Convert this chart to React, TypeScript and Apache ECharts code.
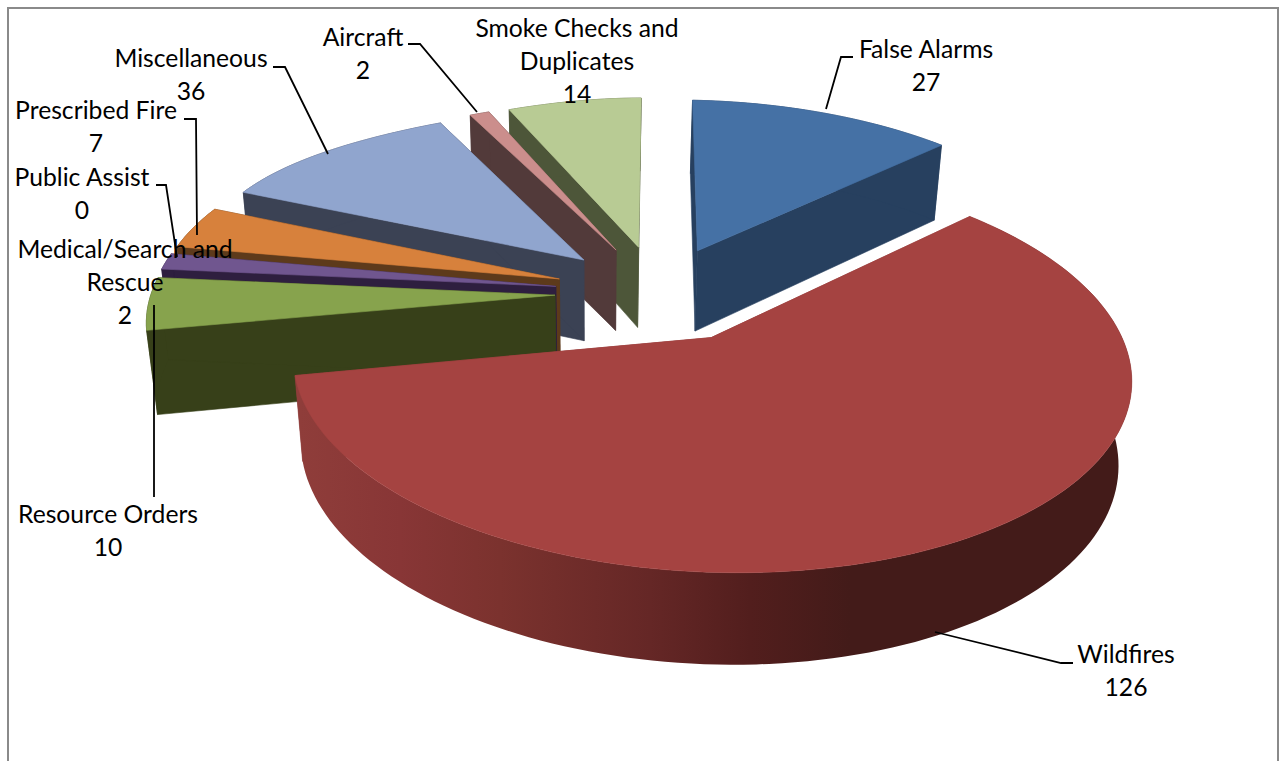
import React, { useEffect, useRef } from "react";
import * as echarts from "echarts";

const categories = ["False Alarms", "Wildfires", "Resource Orders", "Medical/Search and Rescue", "Public Assist", "Prescribed Fire", "Miscellaneous", "Aircraft", "Smoke Checks and Duplicates"];
const values = [27, 126, 10, 2, 0, 7, 36, 2, 14];
const topColors = ["#4571A5", "#A54341", "#87A34D", "#70568F", "#3F97AE", "#D7813C", "#90A5CE", "#CB8E8C", "#B8CB94"];
const sideColors = ["#27405F", "#8F3D3A", "#374019", "#2E1F3F", "#1F4A55", "#5D3A1B", "#3B4254", "#523A3A", "#4D5639"];
const drawOrder = [8, 7, 6, 5, 4, 3, 2, 0, 1];

// text layout, one entry per category
const labelCenterX = [926, 1126, 108, 125, 82, 96, 191, 363, 577];
const labelTopY = [48, 653, 513, 248, 176, 109, 57, 36, 27];
const labelLines = [
  ["False Alarms", "27"],
  ["Wildfires", "126"],
  ["Resource Orders", "10"],
  ["Medical/Search and", "Rescue", "2"],
  ["Public Assist", "0"],
  ["Prescribed Fire", "7"],
  ["Miscellaneous", "36"],
  ["Aircraft", "2"],
  ["Smoke Checks and", "Duplicates", "14"],
];
const leaderLines = [
  [[853, 57], [841, 57], [826, 109]],
  [[1073, 663], [1061, 663], [935, 632]],
  [[154, 305], [154, 497]],
  [],
  [[156, 185], [166, 185], [177, 257]],
  [[184, 119], [196, 119], [197, 235]],
  [[273, 67], [285, 67], [328, 154]],
  [[408, 44], [420, 44], [477, 112]],
  [],
];

// projection of the pie plane to the screen
const CX = 659, CY = 293, AX = 400, SKEW = 8, AY = -185, PERSP = 0.15, DEPTH = 84, DEPTH_W = 0.024, DEPTH_X = -1.5, EXPLODE = 0.26;
// the picture's perspective is not a plain one: a slice's angle and radius are corrected for it
const warpFrom = [0, 43.4, 245.9, 262, 265.2, 276.5, 334.3, 337.5, 360];
const warpTo = [0, 45, 257, 273, 278, 291.5, 333, 336.5, 360];
const SHRINK = 0.035, SHRINK_AT = 330, SHRINK_HALF = 40;
const wallStopsX = [300, 400, 500, 650, 750, 850];
const wallStopsColor = ["#8F3D3A", "#883636", "#7B322E", "#652726", "#521E1D", "#431B19"];

const total = values.reduce((s, v) => s + v, 0);
const warp = (deg: number) => {
  let i = 0;
  while (i < warpFrom.length - 2 && deg > warpFrom[i + 1]) i++;
  const t = (deg - warpFrom[i]) / (warpFrom[i + 1] - warpFrom[i]);
  return warpTo[i] + (warpTo[i + 1] - warpTo[i]) * t;
};
const radius = (deg: number) => {
  const d = Math.abs(deg - SHRINK_AT);
  if (d >= SHRINK_HALF) return 1;
  const c = Math.cos((d / SHRINK_HALF) * (Math.PI / 2));
  return 1 - SHRINK * c * c;
};
const project = (X: number, Y: number, z: number) => {
  const w = 1 + PERSP * Y + z * DEPTH_W;
  return [CX + z * DEPTH_X + (AX * X) / w, CY + (SKEW * X + AY * Y + z * DEPTH) / w];
};
const wildfireWall = new echarts.graphic.LinearGradient(
  wallStopsX[0], 0, wallStopsX[wallStopsX.length - 1], 0,
  wallStopsX.map((x, i) => ({
    offset: (x - wallStopsX[0]) / (wallStopsX[wallStopsX.length - 1] - wallStopsX[0]),
    color: wallStopsColor[i],
  })),
  true
);

function renderSlice(_: any, api: any) {
  const value = api.value(0);
  const idx = api.value(1);
  if (!value) return null;
  let before = 0;
  for (let i = 0; i < idx; i++) before += values[i];
  const a0 = (before / total) * 360;
  const a1 = ((before + value) / total) * 360;
  const mid = ((warp(a0) + warp(a1)) / 2) * (Math.PI / 180);
  const ox = EXPLODE * Math.sin(mid), oy = EXPLODE * Math.cos(mid);
  const steps = Math.max(2, Math.ceil((a1 - a0) / 1.5));
  const ring: number[][] = [];
  for (let i = 0; i <= steps; i++) {
    const deg = warp(a0 + ((a1 - a0) * i) / steps);
    const r = (deg * Math.PI) / 180;
    const len = radius(deg);
    ring.push([ox + len * Math.sin(r), oy + len * Math.cos(r)]);
  }
  const children: any[] = [];
  const poly = (points: number[][], fill: any, stroke?: string) =>
    children.push({
      type: "polygon",
      shape: { points },
      style: { fill, stroke: stroke || "none", lineWidth: stroke ? 0.6 : 0 },
    });
  const side = sideColors[idx];
  const apexT = project(ox, oy, 0), apexB = project(ox, oy, 1);
  const first = ring[0], lastP = ring[ring.length - 1];
  poly([apexT, project(first[0], first[1], 0), project(first[0], first[1], 1), apexB], side, side);
  poly([apexT, project(lastP[0], lastP[1], 0), project(lastP[0], lastP[1], 1), apexB], side, side);
  const upper = ring.map((p) => project(p[0], p[1], 0));
  const lower = ring.map((p) => project(p[0], p[1], 1)).reverse();
  if (idx === 1) poly([...upper, ...lower], wildfireWall);
  else poly([...upper, ...lower], side, side);
  poly([apexT, ...upper], topColors[idx], topColors[idx]);
  return { type: "group", children };
}

export default function App() {
  const ref = useRef<HTMLDivElement>(null);
  useEffect(() => {
    document.body.style.margin = "0";
    const chart = echarts.init(ref.current!, null, { renderer: "svg" });
    const font = "Lato, 'Noto Sans', sans-serif";
    const labelEls = categories.map((_, i) => ({
      type: "group",
      children: labelLines[i].map((t, k) => ({
        type: "text",
        x: labelCenterX[i],
        y: labelTopY[i] + k * 33,
        z: 20,
        style: { text: t, fill: "#000", font: `24.7px ${font}`, textAlign: "center", textVerticalAlign: "middle" },
      })),
    }));
    const lineEls = leaderLines
      .filter((l) => l.length)
      .map((l) => ({
        type: "polyline",
        z: 10,
        shape: { points: l },
        style: { stroke: "#000", lineWidth: 1.8, fill: "none" },
      }));
    const border = {
      type: "polyline",
      z: 10,
      shape: { points: [[8, 761], [8, 8], [1278, 8], [1278, 761]] },
      style: { stroke: "#8A8A8A", lineWidth: 2, fill: "none" },
    };
    chart.setOption({
      animation: false,
      backgroundColor: "#fff",
      series: [
        {
          type: "custom",
          coordinateSystem: "none",
          silent: true,
          renderItem: renderSlice,
          data: drawOrder.map((i) => ({ name: categories[i], value: [values[i], i] })),
        },
      ],
      graphic: { elements: [border, ...lineEls, ...labelEls] },
    });
    return () => chart.dispose();
  }, []);
  return <div ref={ref} style={{ position: "absolute", left: 0, top: 0, width: 1281, height: 761 }} />;
}
